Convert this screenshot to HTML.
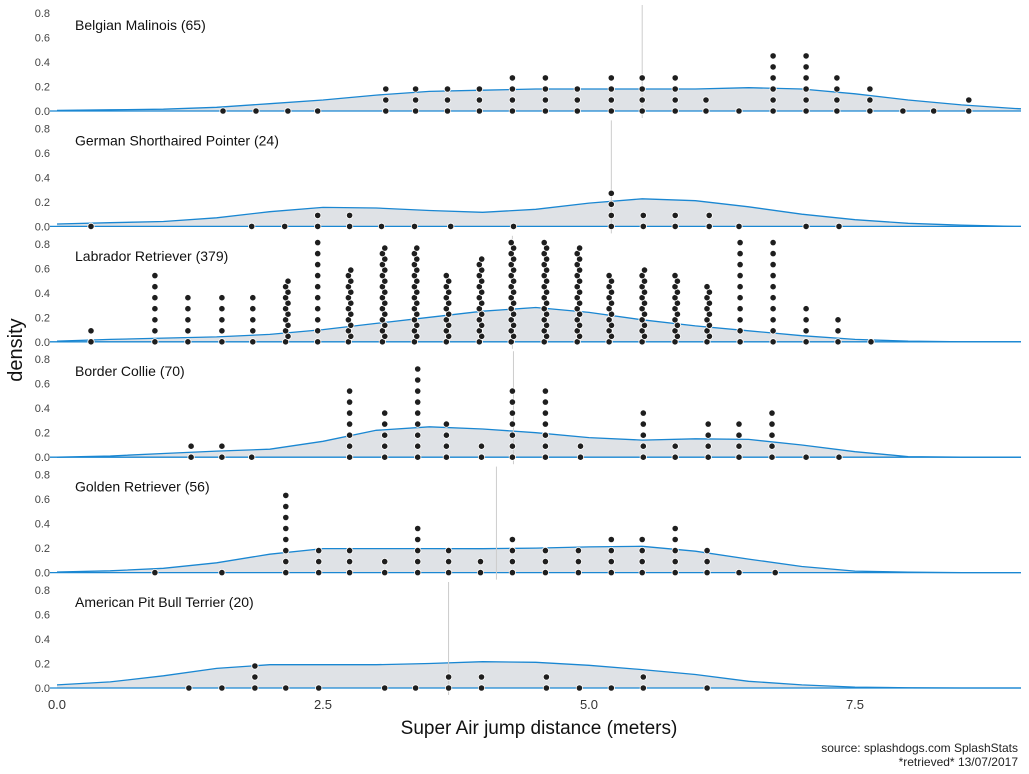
<!DOCTYPE html>
<html><head><meta charset="utf-8">
<style>
html,body{margin:0;padding:0;background:#fff;}
svg{display:block;font-family:"Liberation Sans",sans-serif;}
</style></head>
<body>
<svg id="chart" width="1029" height="774" viewBox="0 0 1029 774" xmlns="http://www.w3.org/2000/svg">
  <text x="22" y="350" font-size="20" fill="#111" text-anchor="middle" transform="rotate(-90 22 350)">density</text>
  <text x="539" y="734" font-size="19" fill="#111" text-anchor="middle">Super Air jump distance (meters)</text>
  <text x="1018" y="752" font-size="12" fill="#222" text-anchor="end">source: splashdogs.com SplashStats</text>
  <text x="1018" y="766" font-size="12" fill="#222" text-anchor="end">*retrieved* 13/07/2017</text>
</svg>
<script>
// ---------- data ----------
const breeds = ["Belgian Malinois (65)","German Shorthaired Pointer (24)","Labrador Retriever (379)","Border Collie (70)","Golden Retriever (56)","American Pit Bull Terrier (20)"];
const medians = [5.50, 5.21, 4.28, 4.29, 4.13, 3.68];
const densityGrid = [0,0.5,1,1.5,2,2.5,3,3.5,4,4.5,5,5.5,6,6.5,7,7.5,8,8.5,9,9.06];
const densityBelgian = [0.005,0.01,0.015,0.03,0.06,0.09,0.13,0.16,0.17,0.18,0.18,0.18,0.18,0.19,0.18,0.14,0.09,0.05,0.02,0.018];
const densityGSP = [0.02,0.03,0.04,0.07,0.12,0.155,0.15,0.13,0.115,0.14,0.19,0.225,0.21,0.16,0.1,0.055,0.025,0.01,0,0];
const densityLabrador = [0.005,0.02,0.03,0.04,0.06,0.1,0.15,0.2,0.25,0.28,0.24,0.18,0.13,0.09,0.05,0.02,0.005,0,0,0];
const densityCollie = [0.0,0.01,0.03,0.05,0.065,0.13,0.22,0.248,0.23,0.2,0.16,0.14,0.15,0.145,0.1,0.045,0.005,0,0,0];
const densityGolden = [0.005,0.015,0.035,0.08,0.15,0.196,0.196,0.196,0.195,0.2,0.21,0.215,0.175,0.11,0.05,0.012,0.003,0,0,0];
const densityPitBull = [0.025,0.05,0.1,0.16,0.19,0.19,0.19,0.2,0.215,0.21,0.185,0.15,0.11,0.055,0.025,0.007,0.002,0,0,0];
const dotsXBelgian = [1.56,1.87,2.17,2.45,3.09,3.37,3.67,3.97,4.28,4.59,4.89,5.21,5.50,5.81,6.10,6.41,6.73,7.04,7.33,7.64,7.95,8.24,8.57];
const dotsNBelgian = [1,1,1,1,3,3,3,3,4,4,3,4,4,4,2,1,6,6,4,3,1,1,2];
const dotsXGSP = [0.32,1.83,2.14,2.45,2.75,3.05,3.36,3.70,4.29,5.21,5.51,5.81,6.13,6.41,7.04,7.35];
const dotsNGSP = [1,1,1,2,2,1,1,1,1,4,2,2,2,1,1,1];
const dotsXLabrador = [0.32,0.92,1.23,1.55,1.84,2.16,2.45,2.75,3.07,3.37,3.67,3.98,4.28,4.59,4.90,5.20,5.51,5.82,6.12,6.42,6.73,7.04,7.34,7.65];
const dotsNLabrador = [2,7,5,5,5,12,10,14,18,18,13,16,25,20,18,13,14,13,11,10,10,4,3,1];
const dotsXCollie = [1.26,1.55,1.83,2.75,3.08,3.39,3.66,3.99,4.28,4.59,4.92,5.51,5.81,6.12,6.41,6.72,7.04,7.35];
const dotsNCollie = [2,2,1,7,5,9,4,2,7,7,2,5,2,4,4,5,1,1];
const dotsXGolden = [0.92,1.55,2.15,2.46,2.75,3.08,3.39,3.68,3.98,4.28,4.59,4.90,5.21,5.50,5.81,6.11,6.41,6.75];
const dotsNGolden = [1,1,8,3,3,2,5,3,2,4,3,3,4,4,5,3,1,1];
const dotsXPitBull = [1.24,1.55,1.86,2.15,2.46,3.08,3.37,3.68,3.99,4.60,4.91,5.21,5.51,6.11];
const dotsNPitBull = [1,1,3,1,1,1,1,2,2,2,1,1,2,1];
const xTicks = [0, 2.5, 5, 7.5];
const xTickLabels = ["0.0","2.5","5.0","7.5"];
const yTicks = [0, 0.2, 0.4, 0.6, 0.8];
const yTickLabels = ["0.0","0.2","0.4","0.6","0.8"];

const densities = [densityBelgian,densityGSP,densityLabrador,densityCollie,densityGolden,densityPitBull];
const dotsX = [dotsXBelgian,dotsXGSP,dotsXLabrador,dotsXCollie,dotsXGolden,dotsXPitBull];
const dotsN = [dotsNBelgian,dotsNGSP,dotsNLabrador,dotsNCollie,dotsNGolden,dotsNPitBull];

// ---------- scales ----------
const X0 = 57, PXM = 106.4, XR = 1021;
function sx(m){ return X0 + m*PXM; }
const PANEL_GAP = 115.4, BASE0 = 111, PXD = 122.5;
function baseY(i){ return BASE0 + i*PANEL_GAP; }
function sy(i, d){ return baseY(i) - d*PXD; }
const DOT_STEP = 0.09;

const NS = "http://www.w3.org/2000/svg";
const svg = document.getElementById('chart');
function mk(tag, attrs, parent){
  const e = document.createElementNS(NS, tag);
  for (const k in attrs) e.setAttribute(k, attrs[k]);
  (parent||svg).appendChild(e);
  return e;
}

breeds.forEach((name, i) => {
  const g = mk('g', {});
  
  
  const b = baseY(i);

  yTicks.forEach((t, k) => {
    const tx = mk('text', {x: 50, y: sy(i,t)+4, 'font-size': 11, fill: '#444', 'text-anchor': 'end'}, g);
    tx.textContent = yTickLabels[k];
    
    
  });

  const dens = densities[i];
  let d = 'M' + sx(densityGrid[0]) + ',' + b;
  densityGrid.forEach((m, k) => { d += ' L' + sx(m).toFixed(1) + ',' + sy(i, dens[k]).toFixed(1); });
  d += ' L' + sx(densityGrid[densityGrid.length-1]).toFixed(1) + ',' + b + ' Z';
  const area = mk('path', {d: d, fill: '#dfe2e6', stroke: 'none'}, g);
  
  
  let ld = '';
  densityGrid.forEach((m, k) => { ld += (k ? ' L' : 'M') + sx(m).toFixed(1) + ',' + sy(i, dens[k]).toFixed(1); });
  const line = mk('path', {d: ld, fill: 'none', stroke: '#1a87d2', 'stroke-width': 1.3}, g);
  
  
  const bl = mk('line', {x1: 50, x2: XR, y1: b, y2: b, stroke: '#1a87d2', 'stroke-width': 1.3}, g);
  
  

  const ml = mk('line', {x1: sx(medians[i]), x2: sx(medians[i]), y1: b-106, y2: b+7, stroke: '#cccccc', 'stroke-width': 1}, g);
  
  

  const xs = dotsX[i], ns = dotsN[i];
  xs.forEach((m, k) => {
    const n = ns[k];
    for (let j = 0; j < n; j++) {
      let cx = sx(m), dv;
      if (n > 10) { cx += (j % 2 ? 1.2 : -1.2); dv = Math.floor(j/2)*DOT_STEP + (j%2)*DOT_STEP/2; }
      else { dv = j*DOT_STEP; }
      if (dv > 0.82) continue;
      const c = mk('circle', {cx: cx.toFixed(1), cy: sy(i, dv).toFixed(1), r: 3.2, fill: '#1e1e1e', stroke: '#fff', 'stroke-width': 0.8}, g);
      
      
    }
  });

  const lab = mk('text', {x: 75, y: b-81, 'font-size': 14, fill: '#111'}, g);
  lab.textContent = name;
  
  
});

xTicks.forEach((t, k) => {
  const tx = mk('text', {x: sx(t), y: 709, 'font-size': 13, fill: '#333', 'text-anchor': 'middle'});
  tx.textContent = xTickLabels[k];
  
  
});
</script>
</body></html>
